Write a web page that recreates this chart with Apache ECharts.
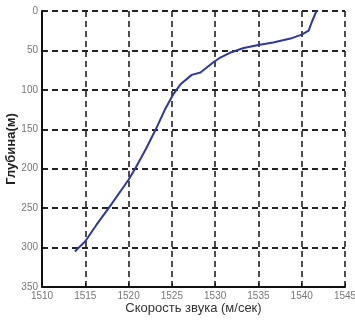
<!DOCTYPE html>
<html><head><meta charset="utf-8">
<script src="https://cdn.jsdelivr.net/npm/echarts@6/dist/echarts.min.js"></script>
<style>html,body{margin:0;padding:0;background:#fff}#c{width:355px;height:322px}</style>
</head><body><div id="c"></div>
<script>
const speed = [1513.8,1515,1516.3,1517.7,1520,1520.8,1522,1523.1,1524.2,1525.2,1526,1527.3,1528.3,1529,1529.8,1530.6,1531.7,1533.3,1535,1536.7,1538.7,1540,1540.8,1541.2,1541.7];
const depth = [305,292,271,250,214,199,175,151,125,105,93,81,78,72,65,59,53,47,43,40,35,30,25,13,0];
const xTitle = 'Скорость звука (м/сек)';
const yTitle = 'Глубина(м)';
const data = speed.map((s,i)=>[s, depth[i]]);
const chart = echarts.init(document.getElementById('c'));
chart.setOption({
  animation:false,
  grid:{left:42, right:10, top:11, bottom:35, containLabel:false, outerBoundsMode:'none'},
  xAxis:{type:'value', min:1510, max:1545, interval:5,
    axisLine:{show:true, onZero:false, lineStyle:{color:'#111', width:2}},
    axisTick:{show:true, inside:true, length:4, lineStyle:{color:'#111'}},
    axisLabel:{color:'#777', fontSize:10, fontFamily:'Liberation Sans Narrow, Arial', margin:4,
      formatter:v=>String(v)},
    splitLine:{show:true, lineStyle:{color:'#222', width:1.6, type:[6,4]}},
    name:xTitle, nameLocation:'middle', nameGap:15, nameMoveOverlap:false,
    nameTextStyle:{color:'#333', fontSize:13, fontFamily:'Liberation Sans, Arial'}},
  yAxis:{type:'value', inverse:true, min:0, max:350, interval:50,
    axisLine:{show:true, onZero:false, lineStyle:{color:'#111', width:2}},
    axisTick:{show:false},
    axisLabel:{color:'#777', fontSize:10, fontFamily:'Liberation Sans Narrow, Arial', margin:4,
      formatter:v=>String(v)},
    splitLine:{show:true, lineStyle:{color:'#222', width:2, type:[6,4]}},
    name:yTitle, nameLocation:'middle', nameGap:24, nameMoveOverlap:false,
    nameTextStyle:{color:'#222', fontSize:13, fontWeight:'bold', fontFamily:'Liberation Sans, Arial'}},
  series:[{type:'line', data:data, showSymbol:false, smooth:false,
    lineStyle:{color:'#2e36a0', width:2}}]
});
</script></body></html>
